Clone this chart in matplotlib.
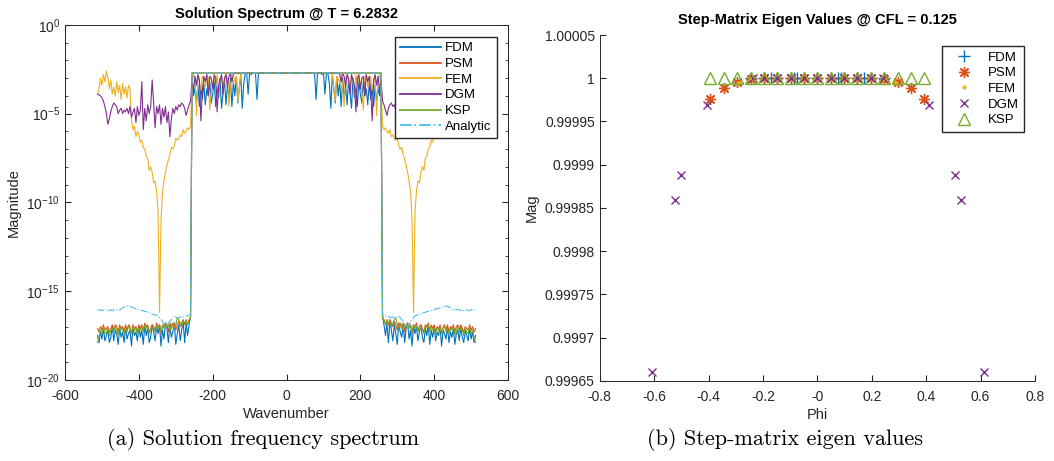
import numpy as np
import matplotlib
matplotlib.use("Agg")
import matplotlib.pyplot as plt
from matplotlib.ticker import FixedLocator, NullFormatter, FuncFormatter, LogFormatterSciNotation

plt.rcParams['font.family'] = ['Liberation Sans', 'DejaVu Sans']
plt.rcParams['mathtext.fontset'] = 'custom'
plt.rcParams['mathtext.rm'] = 'Liberation Sans'
plt.rcParams['mathtext.it'] = 'Liberation Sans:italic'
plt.rcParams['axes.unicode_minus'] = False

# MATLAB default colours
C_FDM = '#0072BD'
C_PSM = '#D95319'
C_FEM = '#EDB120'
C_DGM = '#7E2F8E'
C_KSP = '#77AC30'
C_ANA = '#4DBEEE'

# =========================
# (a) spectrum data, log10 magnitude, positive wavenumbers (mirrored)
# =========================
k_half = np.arange(0, 513, 4)          # 0 .. 512
PLATEAU = -2.71                        # flat top for |k| <= 256

# notched part of the plateau, k = 80 .. 256
fdm_top = [-4.2, -2.71, -2.71, -2.71, -2.8, -2.71, -3.9, -2.71, -2.75, -3.3,
           -4.7, -2.8, -3.6, -4.4, -2.9, -4.0, -3.2, -4.6, -3.0, -4.2,
           -3.4, -4.5, -3.1, -3.8, -4.7, -3.0, -4.1, -3.5, -4.6, -3.1,
           -3.9, -4.4, -3.2, -4.0, -3.6, -4.5, -3.3, -4.2, -3.5, -4.6,
           -3.4, -4.3, -3.6, -4.0, -3.3]
fem_top = [-2.71, -2.71, -2.71, -2.71, -2.71, -2.71, -2.71, -2.71, -2.71, -2.71,
           -2.71, -2.8, -3.6, -4.3, -2.9, -3.0, -3.3, -2.8, -3.5, -4.6,
           -3.0, -2.75, -3.2, -3.6, -2.9, -3.1, -3.9, -2.8, -3.4, -3.0,
           -3.3, -3.8, -4.8, -3.0, -2.8, -3.5, -3.1, -2.9, -3.7, -3.2,
           -2.9, -5.1, -3.0, -2.8, -3.3]
dgm_top = [-2.71, -2.71, -2.71, -2.71, -2.71, -2.71, -2.71, -2.71, -2.71, -2.71,
           -2.71, -2.71, -2.71, -2.75, -2.71, -2.71, -2.8, -3.2, -2.75, -2.9,
           -3.5, -2.8, -3.0, -3.9, -2.8, -3.1, -3.4, -4.9, -3.0, -2.8,
           -3.6, -3.0, -2.9, -4.0, -2.8, -3.2, -2.9, -3.7, -5.4, -3.1,
           -2.8, -3.4, -2.9, -3.8, -3.0]

# tails, k = 260 .. 512
fdm_tail = [-16.4, -16.9, -17.5, -16.8, -17.9, -16.7, -17.2, -17.8,
            -16.9, -17.4, -18.0, -16.8, -17.3, -17.6, -16.9, -17.9,
            -17.1, -16.8, -17.7, -17.2, -18.1, -16.9, -17.4, -17.0,
            -17.8, -17.3, -16.9, -17.6, -17.9, -17.1, -17.5, -16.9,
            -18.0, -17.2, -17.6, -17.0, -17.8, -17.3, -17.5, -17.0,
            -18.1, -17.2, -17.4, -17.7, -17.0, -17.9, -17.3, -17.6,
            -17.1, -18.0, -17.4, -17.2, -17.8, -17.0, -17.6, -17.9,
            -17.2, -17.5, -17.8, -17.1, -17.7, -17.3, -17.9, -17.5]
psm_tail = [-16.5, -16.6, -16.8, -16.7, -16.9, -16.6, -16.8, -17.0,
            -16.7, -16.9, -17.2, -16.8, -16.9, -17.1, -16.8, -17.3,
            -16.9, -16.8, -17.0, -16.9, -17.4, -16.9, -17.0, -16.8,
            -17.2, -17.0, -16.9, -17.1, -17.3, -16.9, -17.0, -16.8,
            -17.2, -16.9, -17.1, -16.9, -17.3, -17.0, -17.1, -16.9,
            -17.4, -17.0, -16.9, -17.2, -16.9, -17.3, -17.0, -17.1,
            -16.9, -17.3, -17.0, -16.9, -17.2, -16.9, -17.1, -17.3,
            -17.0, -17.1, -17.2, -16.9, -17.2, -17.0, -17.3, -17.1]
fem_tail = [-5.7, -5.9, -5.8, -6.0, -6.1, -5.9, -6.3, -6.2,
            -6.4, -6.5, -6.4, -6.8, -7.0, -6.9, -7.3, -7.6,
            -7.9, -8.3, -8.8, -9.4, -11.0, -16.2, -10.5, -9.4,
            -8.8, -8.9, -8.3, -8.0, -8.2, -7.5, -7.4, -7.0,
            -6.9, -6.5, -6.6, -6.2, -6.0, -6.3, -5.7, -5.9,
            -5.4, -3.6, -3.4, -4.1, -3.5, -3.9, -3.3, -4.2,
            -3.4, -3.8, -3.2, -4.0, -3.5, -3.9, -3.1, -3.6,
            -2.9, -2.6, -3.2, -2.8, -3.4, -3.0, -3.6, -3.9]
dgm_tail = [-4.3, -4.5, -4.8, -5.1, -4.7, -4.5, -4.4, -4.6,
            -4.5, -4.8, -4.6, -5.0, -4.7, -5.3, -6.3, -4.9,
            -5.5, -4.6, -5.2, -4.7, -5.6, -4.5, -5.0, -4.6,
            -5.8, -4.4, -3.1, -4.6, -5.0, -4.5, -5.4, -4.7,
            -5.9, -3.2, -4.8, -5.1, -4.6, -5.5, -4.7, -4.9,
            -5.2, -4.6, -5.0, -4.7, -4.9, -4.8, -5.0, -4.7,
            -4.8, -5.0, -4.6, -4.5, -4.4, -4.6, -4.9, -5.3,
            -5.6, -5.0, -4.6, -4.3, -4.1, -4.0, -3.95, -3.9]
ksp_tail = [-16.5, -16.7, -16.9, -16.6, -16.8, -16.7, -17.0, -16.8,
            -16.6, -16.5, -16.9, -17.1, -16.8, -16.9, -17.2, -16.9,
            -17.0, -16.8, -17.1, -17.0, -17.3, -16.9, -17.1, -17.0,
            -17.3, -17.1, -17.0, -17.2, -17.4, -17.0, -17.1, -16.9,
            -17.3, -17.0, -17.2, -17.1, -17.5, -17.1, -17.2, -17.0,
            -17.4, -17.1, -17.0, -17.3, -17.1, -17.4, -17.1, -17.2,
            -17.0, -17.5, -17.2, -17.0, -17.3, -17.1, -17.2, -17.5,
            -17.1, -17.3, -17.4, -17.0, -17.4, -17.2, -17.6, -17.9]
ana_tail = [-16.3, -16.35, -16.4, -16.4, -16.45, -16.45, -16.5, -16.45,
            -16.5, -16.5, -16.45, -16.4, -16.5, -16.6, -16.7, -16.8,
            -16.9, -17.0, -16.9, -16.7, -16.6, -16.5, -16.4, -16.35,
            -16.35, -16.3, -16.3, -16.25, -16.2, -16.2, -16.15, -16.15,
            -16.1, -16.1, -16.05, -16.05, -16.0, -16.0, -15.95, -15.95,
            -15.9, -15.85, -15.85, -15.85, -15.85, -15.9, -15.95, -16.0,
            -16.05, -16.05, -16.05, -16.05, -16.05, -16.1, -16.05, -16.1,
            -16.1, -16.05, -16.1, -16.1, -16.05, -16.1, -16.05, -16.05]

# =========================
# (b) step-matrix eigen values
# =========================
ksp_phi = [-0.393, -0.344, -0.295, -0.245, -0.196, -0.147, -0.098, -0.049, 0.0,
           0.049, 0.098, 0.147, 0.196, 0.245, 0.295, 0.344, 0.393]
ksp_mag = [1.0] * 17
psm_phi = ksp_phi
psm_mag = [0.999976, 0.999989, 0.999996, 0.999999, 1.0, 1.0, 1.0, 1.0, 1.0,
           1.0, 1.0, 1.0, 1.0, 0.999999, 0.999996, 0.999989, 0.999976]
fem_phi = [-0.29, -0.28, -0.245, -0.196, -0.147, -0.098, -0.049, 0.0,
           0.049, 0.098, 0.147, 0.196, 0.245, 0.28, 0.29]
fem_mag = [0.999995, 0.999996, 0.999999, 1.0, 1.0, 1.0, 1.0, 1.0,
           1.0, 1.0, 1.0, 1.0, 0.999999, 0.999996, 0.999995]
fdm_phi = [-0.245, -0.196, -0.172, -0.147, -0.098, -0.086, -0.074, -0.049, 0.0,
           0.049, 0.074, 0.086, 0.098, 0.147, 0.172, 0.196, 0.245]
fdm_mag = [1.0] * 17
dgm_phi = [-0.607, -0.524, -0.503, -0.407, -0.235, -0.196, -0.147, -0.098, -0.049, 0.0,
           0.049, 0.098, 0.147, 0.196, 0.243, 0.410, 0.506, 0.527, 0.611]
dgm_mag = [0.99966, 0.999859, 0.999888, 0.999969, 1.0, 1.0, 1.0, 1.0, 1.0, 1.0,
           1.0, 1.0, 1.0, 1.0, 1.0, 0.999969, 0.999888, 0.999859, 0.99966]


def full_spectrum(top, tail):
    # plateau (k 0..76 flat, 80..256 given), tail 260..512, then mirror to negative k
    half = np.concatenate([np.full(20, PLATEAU), top, tail])
    vals = np.concatenate([half[:0:-1], half])
    return 10.0 ** vals


flat_top = [PLATEAU] * 45
k_full = np.concatenate([-k_half[:0:-1], k_half])

fig = plt.figure(figsize=(10.54, 4.61), dpi=100)
ax1 = fig.add_axes([0.0617, 0.176, 0.4203, 0.770])
ax2 = fig.add_axes([0.569, 0.174, 0.413, 0.750])

lw = 0.8
ax1.plot(k_full, full_spectrum(fdm_top, fdm_tail), color=C_FDM, lw=lw, label='FDM')
ax1.plot(k_full, full_spectrum(flat_top, psm_tail), color=C_PSM, lw=lw, label='PSM')
ax1.plot(k_full, full_spectrum(fem_top, fem_tail), color=C_FEM, lw=lw, label='FEM')
ax1.plot(k_full, full_spectrum(dgm_top, dgm_tail), color=C_DGM, lw=lw, label='DGM')
ax1.plot(k_full, full_spectrum(flat_top, ksp_tail), color=C_KSP, lw=lw, label='KSP')
ax1.plot(k_full, full_spectrum(flat_top, ana_tail), color=C_ANA, lw=lw, ls='-.', label='Analytic')

ax1.set_yscale('log')
ax1.set_xlim(-600, 600)
ax1.set_ylim(1e-20, 1)
ax1.set_xticks(np.arange(-600, 601, 200))
ax1.yaxis.set_major_locator(FixedLocator([1e-20, 1e-15, 1e-10, 1e-5, 1]))
ax1.yaxis.set_major_formatter(LogFormatterSciNotation())
ax1.yaxis.set_minor_locator(FixedLocator([10.0 ** -i for i in range(21)]))
ax1.yaxis.set_minor_formatter(NullFormatter())
ax1.tick_params(which='both', direction='in', top=True, right=True, labelsize=10, colors='#262626')
ax1.tick_params(which='major', length=4)
ax1.tick_params(which='minor', length=2.5)
ax1.tick_params(axis='x', pad=6.5)
ax1.set_xlabel('Wavenumber', fontsize=10.5, color='#262626', labelpad=3)
ax1.set_ylabel('Magnitude', fontsize=10.5, color='#262626')
ax1.set_title('Solution Spectrum @ T = 6.2832', fontsize=10.5, fontweight='bold', pad=5)
leg1 = ax1.legend(loc='upper right', bbox_to_anchor=(0.975, 0.966), borderaxespad=0,
                  fontsize=9.5, fancybox=False, handlelength=3.1, labelspacing=0.26,
                  borderpad=0.4, handletextpad=0.3, framealpha=1)
leg1.get_frame().set_edgecolor('#262626')
leg1.get_frame().set_linewidth(1.0)
for ln in leg1.get_lines():
    ln.set_linewidth(1.3)

ax2.plot(fdm_phi, fdm_mag, ls='none', marker='+', ms=8, mew=1.0, color=C_FDM, label='FDM')
ax2.plot(psm_phi, psm_mag, ls='none', marker=(8, 2, 0), ms=8, mew=1.0, color=C_PSM, label='PSM')
ax2.plot(fem_phi, fem_mag, ls='none', marker='.', ms=4, color=C_FEM, label='FEM')
ax2.plot(dgm_phi, dgm_mag, ls='none', marker='x', ms=6, mew=1.0, color=C_DGM, label='DGM')
ax2.plot(ksp_phi, ksp_mag, ls='none', marker='^', ms=9, mew=1.0, mfc='none', color=C_KSP, label='KSP')

ax2.set_xlim(-0.8, 0.8)
ax2.set_ylim(0.99965, 1.00005)
ax2.set_xticks(np.arange(-0.8, 0.81, 0.2))
ax2.set_yticks(np.arange(0.99965, 1.000051, 0.00005))
fmt = FuncFormatter(lambda v, p: '%g' % round(v, 6))
ax2.xaxis.set_major_formatter(fmt)
ax2.yaxis.set_major_formatter(fmt)
ax2.spines['top'].set_visible(False)
ax2.spines['right'].set_visible(False)
ax2.tick_params(direction='in', length=4, labelsize=10, colors='#262626')
ax2.tick_params(axis='x', pad=6.5)
ax2.set_xlabel('Phi', fontsize=10.5, color='#262626', labelpad=3)
ax2.set_ylabel('Mag', fontsize=10.5, color='#262626')
ax2.set_title('Step-Matrix Eigen Values @ CFL = 0.125', fontsize=10.5, fontweight='bold', pad=8)
leg2 = ax2.legend(loc='upper right', bbox_to_anchor=(0.975, 0.968), borderaxespad=0,
                  fontsize=9.5, fancybox=False, numpoints=1, handlelength=2.6, labelspacing=0.26,
                  borderpad=0.4, handletextpad=0.5, framealpha=1)
leg2.get_frame().set_edgecolor('#262626')
leg2.get_frame().set_linewidth(1.0)

for ax in (ax1, ax2):
    for s in ax.spines.values():
        s.set_color('#262626')
        s.set_linewidth(0.7)

fig.text(0.25, 0.035, '(a) Solution frequency spectrum', family='cmr10', fontsize=16, ha='center')
fig.text(0.745, 0.035, '(b) Step-matrix eigen values', family='cmr10', fontsize=16, ha='center')

fig.savefig('out.png', dpi=100)
